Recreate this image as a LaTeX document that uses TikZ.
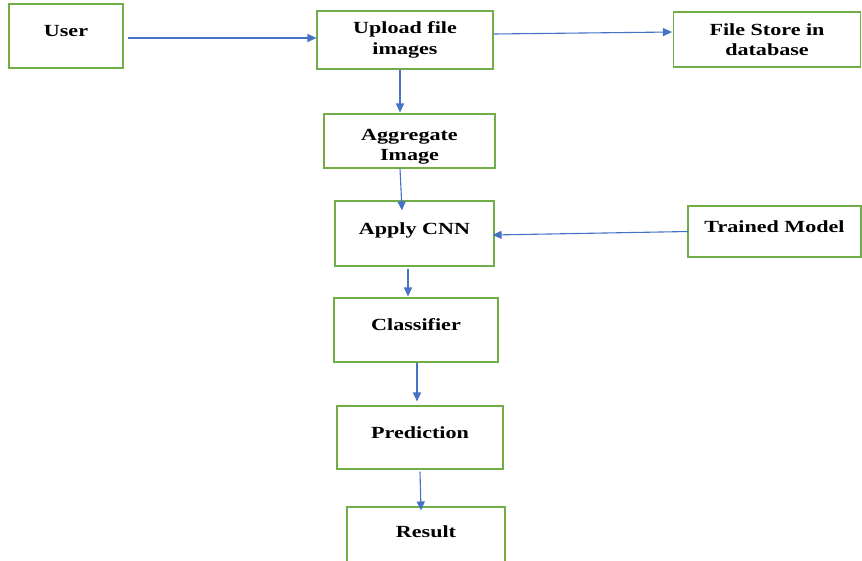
\documentclass[tikz,border=0pt]{standalone}
\usepackage{fontspec}
\setmainfont{Liberation Serif}[FakeStretch=1.3]
\usetikzlibrary{arrows.meta}
\definecolor{boxgreen}{RGB}{112,173,71}
\definecolor{flowblue}{RGB}{68,114,196}
\begin{document}
\begin{tikzpicture}[x=1pt, y=-1pt,
      box/.style={draw=boxgreen, line width=1.1pt, align=center, inner sep=0pt,
         font=\bfseries\fontsize{17}{20.5}\selectfont},
      lift/.style={text height=12pt, text depth=10.8pt},
      sink/.style={text height=43pt},
      flow/.style={draw=flowblue, line width=1.1pt, -{Triangle[length=9pt, width=8pt]}}]
      \useasboundingbox (0,0) rectangle (862,560);
      \begin{scope}
         \def \Blocks {
            user/66/36/114/64/User,
            cnn/414.5/233.5/159/65/Apply CNN,
            trained/774.5/231.5/173/51/Trained Model,
            classifier/416/330/164/64/Classifier,
            prediction/420/437.5/166/63/Prediction,
            result/426/537/158/60/Result}
         \def \TwoLine {
            upload/405/40/176/58/{}/{Upload file\\images},
            store/767/39.5/187/55/{}/{File Store in\\database},
            aggr/409.5/141/171/54/sink/{Aggregate\\Image}}
         \foreach \u / \x / \y / \w / \h / \n in \Blocks {
            \node[box, lift, minimum width=\w pt, minimum height=\h pt] (\u) at (\x, \y){\n};
         }
         \foreach \u / \x / \y / \w / \h / \s / \n in \TwoLine {
            \node[box, \s, minimum width=\w pt, minimum height=\h pt] (\u) at (\x, \y){\n};
         }
      \end{scope}
      \path[flow] ([xshift=4pt, yshift=-2pt]user.east) -- ([yshift=2pt]upload.west);
      \path[flow] ([yshift=6pt]upload.east) -- ([xshift=-1pt, yshift=7.5pt]store.west);
      \path[flow] ([xshift=-5pt]upload.south) -- ([xshift=-9.5pt, yshift=1pt]aggr.north);
      \path[flow] ([xshift=-9.5pt]aggr.south) -- ([xshift=-12.5pt, yshift=-10pt]cnn.north);
      \path[flow] ([xshift=1pt]trained.west) -- ([xshift=-2pt, yshift=-1.5pt]cnn.east);
      \path[flow] ([xshift=-6.5pt, yshift=-2pt]cnn.south) -- ([xshift=-8pt, yshift=1pt]classifier.north);
      \path[flow] ([xshift=1pt]classifier.south) -- ([xshift=-3pt, yshift=4pt]prediction.north);
      \path[flow] ([yshift=-2pt]prediction.south) -- ([xshift=-5pt, yshift=-4pt]result.north);
   \end{tikzpicture}
\end{document}
